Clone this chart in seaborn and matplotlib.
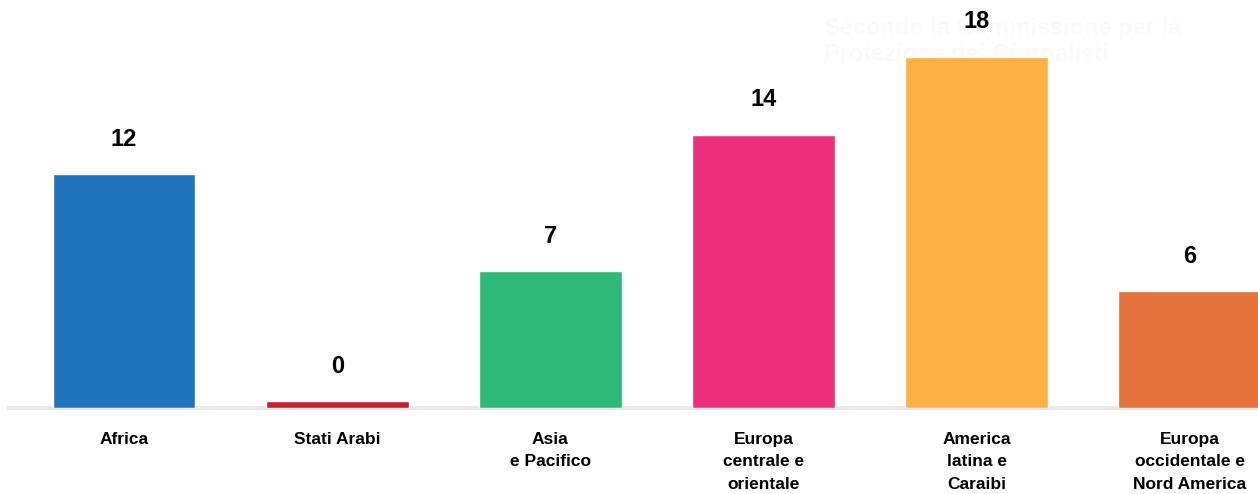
import matplotlib
matplotlib.use('Agg')
import matplotlib.pyplot as plt
import seaborn as sns
import pandas as pd

# dati
regioni = ['Africa', 'Stati Arabi', 'Asia\ne Pacifico', 'Europa\ncentrale e\norientale',
           'America\nlatina e\nCaraibi', 'Europa\noccidentale e\nNord America']
valori = [12, 0, 7, 14, 18, 6]
colori = ['#1f74bb', '#c21f30', '#2fb977', '#ee2e7b', '#fdb143', '#e3723c']

sns.set_theme(style='white')
plt.rcParams['font.family'] = ['Liberation Sans', 'DejaVu Sans']

df = pd.DataFrame({'regione': regioni, 'valore': valori})
# barra minima visibile per il valore zero
df['altezza'] = df['valore'].clip(lower=0.35)

fig = plt.figure(figsize=(12.58, 4.94), dpi=100)
ax = fig.add_axes([9 / 1258, 86 / 494, 1249 / 1258, 408 / 494])

# testo quasi invisibile dietro le barre
ax.text(0.655, 0.965, 'Secondo la Commissione per la\nProtezione dei Giornalisti', transform=fig.transFigure,
        fontsize=17, fontweight='bold', color='#fafafa', ha='left', va='top', linespacing=1.15, zorder=0)

sns.barplot(data=df, x='regione', y='altezza', hue='regione', palette=colori,
            width=0.67, legend=False, saturation=1, ax=ax, zorder=2)

for i, v in enumerate(valori):
    ax.annotate(str(v), (i, df['altezza'][i]), xytext=(0, 25), textcoords='offset points',
                ha='center', va='center', fontsize=17, fontweight='bold', color='black')

ax.set_xlim(-0.54, 5.32)
ax.set_ylim(0, 20.9)
ax.set_xlabel('')
ax.set_ylabel('')
ax.set_yticks([])
ax.tick_params(axis='x', length=0, pad=17)
for lab in ax.get_xticklabels():
    lab.set_fontsize(12.5)
    lab.set_fontweight('bold')
    lab.set_linespacing(1.65)
    lab.set_color('black')

for s in ['top', 'right', 'left']:
    ax.spines[s].set_visible(False)
ax.spines['bottom'].set_color('#e8e8ed')
ax.spines['bottom'].set_linewidth(3)
ax.spines['bottom'].set_zorder(1)

plt.savefig('out.png', dpi=100)
